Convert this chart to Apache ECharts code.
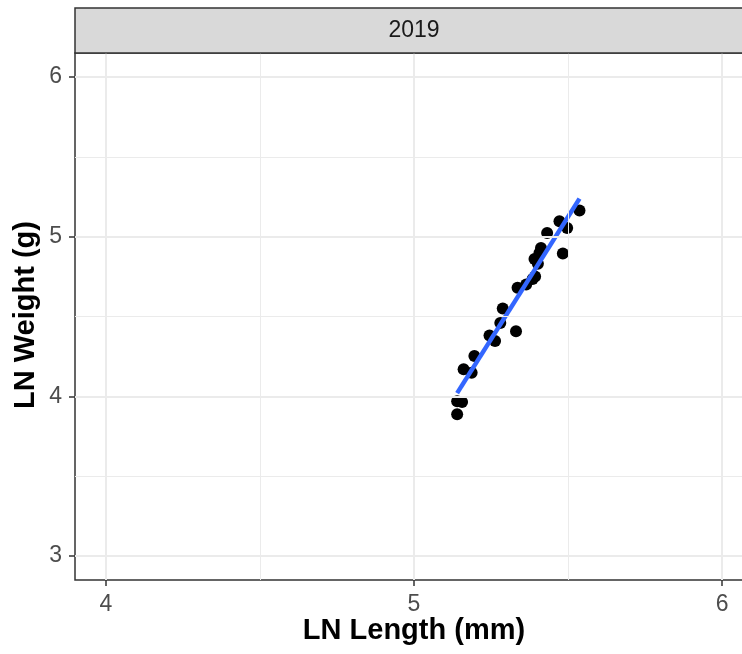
<!DOCTYPE html>
<html><head><meta charset="utf-8">
<script src="https://cdn.jsdelivr.net/npm/echarts@6/dist/echarts.min.js"></script>
<style>html,body{margin:0;padding:0;background:#fff}#c{width:742px;height:654px}</style>
</head><body><div id="c"></div>
<script>
const panelTitle = '2019';
const xTitle = 'LN Length (mm)';
const yTitle = 'LN Weight (g)';
const xTicks = [4, 5, 6];
const yTicks = [3, 4, 5, 6];
const xMinorGrid = [4.5, 5.5];
const yMinorGrid = [3.5, 4.5, 5.5];
const lnLength = [5.140, 5.140, 5.156, 5.161, 5.187, 5.196, 5.245, 5.263, 5.280, 5.288, 5.331, 5.336, 5.364, 5.385, 5.393, 5.391, 5.402, 5.407, 5.412, 5.432, 5.472, 5.497, 5.483, 5.537];
const lnWeight = [3.888, 3.970, 3.965, 4.169, 4.148, 4.252, 4.381, 4.346, 4.460, 4.550, 4.408, 4.680, 4.700, 4.735, 4.750, 4.860, 4.830, 4.898, 4.929, 5.023, 5.096, 5.054, 4.894, 5.164];
const fitLength = [5.140, 5.537];
const fitWeight = [4.020, 5.238];

const FONT = "'Liberation Sans', Arial, Helvetica, sans-serif";
const chart = echarts.init(document.getElementById('c'), null, {renderer: 'canvas'});

const gridLines = [].concat(
  xTicks.map(v => ({xAxis: v, lineStyle: {width: 2}})),
  xMinorGrid.map(v => ({xAxis: v, lineStyle: {width: 1}})),
  yTicks.map(v => ({yAxis: v, lineStyle: {width: 2}})),
  yMinorGrid.map(v => ({yAxis: v, lineStyle: {width: 1}}))
);

chart.setOption({
  animation: false,
  backgroundColor: '#ffffff',
  grid: {left: 75, width: 678, top: 53, height: 527, outerBoundsMode: 'none', containLabel: false, show: true, borderColor: '#333333', borderWidth: 1.5, backgroundColor: 'transparent'},
  xAxis: {
    type: 'value', min: 3.9, max: 6.1,
    axisLine: {show: false},
    splitLine: {show: false},
    axisTick: {show: true, length: 6, customValues: xTicks, lineStyle: {color: '#333333', width: 1.5}},
    axisLabel: {customValues: xTicks, fontSize: 23, color: '#4D4D4D', margin: 13, fontFamily: FONT}
  },
  yAxis: {
    type: 'value', min: 2.85, max: 6.15,
    axisLine: {show: false},
    splitLine: {show: false},
    axisTick: {show: true, length: 6, customValues: yTicks, lineStyle: {color: '#333333', width: 1.5}},
    axisLabel: {customValues: yTicks, fontSize: 23, color: '#4D4D4D', margin: 13, fontFamily: FONT}
  },
  graphic: [
    {type: 'rect', z: 10, shape: {x: 75, y: 8, width: 700, height: 45}, style: {fill: '#D9D9D9', stroke: '#333333', lineWidth: 1.5}},
    {type: 'text', z: 11, x: 414, y: 31, style: {text: panelTitle, fill: '#1A1A1A', font: '23px ' + FONT, textAlign: 'center', textVerticalAlign: 'middle'}},
    {type: 'text', z: 11, x: 414, y: 631, style: {text: xTitle, fill: '#000000', font: 'bold 29px ' + FONT, textAlign: 'center', textVerticalAlign: 'middle'}},
    {type: 'text', z: 11, x: 26, y: 315, rotation: Math.PI / 2, style: {text: yTitle, fill: '#000000', font: 'bold 29px ' + FONT, textAlign: 'center', textVerticalAlign: 'middle'}}
  ],
  series: [
    {
      type: 'line', data: [], z: 1, silent: true,
      markLine: {silent: true, symbol: ['none', 'none'], label: {show: false}, lineStyle: {color: '#EBEBEB', type: 'solid'}, emphasis: {disabled: true}, data: gridLines}
    },
    {
      type: 'scatter', z: 2, symbolSize: 12,
      itemStyle: {color: '#000000', opacity: 1},
      data: lnLength.map((x, i) => [x, lnWeight[i]])
    },
    {
      type: 'line', z: 3, showSymbol: false, symbol: 'none',
      lineStyle: {color: '#3366FF', width: 4.5},
      data: fitLength.map((x, i) => [x, fitWeight[i]])
    }
  ]
});
</script>
</body></html>
